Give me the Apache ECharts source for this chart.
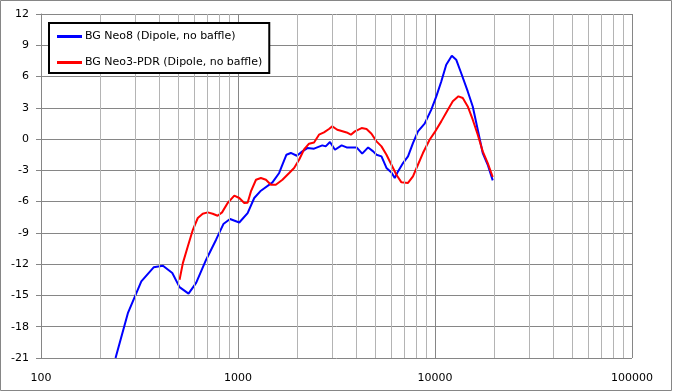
<!DOCTYPE html>
<html>
<head>
<meta charset="utf-8">
<script src="https://cdn.jsdelivr.net/npm/echarts@6/dist/echarts.min.js"></script>
<style>
html,body{margin:0;padding:0;background:#fff;}
#c{width:676px;height:391px;}
</style>
</head>
<body>
<div id="c"></div>
<script>
// Data (frequency in Hz, level in dB)
const neo8Freq = [239, 276, 323, 373, 416, 464, 505, 561, 613, 689, 774, 843, 911, 1015, 1119, 1209, 1307, 1332, 1496, 1618, 1669, 1762, 1854, 1989, 2122, 2250, 2432, 2679, 2786, 2930, 3106, 3358, 3560, 3999, 4270, 4578, 4853, 5047, 5349, 5671, 6010, 6248, 6490, 6883, 7294, 7730, 8193, 8860, 9576, 10155, 10760, 11403, 12173, 12810, 13573, 14664, 15546, 16482, 17468, 18520, 19637];
const neo8Db   = [-21, -16.7, -13.65, -12.3, -12.15, -12.85, -14.2, -14.83, -13.8, -11.57, -9.65, -8.15, -7.67, -8.0, -7.1, -5.65, -4.95, -4.85, -4.15, -3.25, -2.6, -1.5, -1.33, -1.6, -1.18, -0.86, -0.92, -0.6, -0.7, -0.28, -1.02, -0.6, -0.8, -0.8, -1.4, -0.8, -1.18, -1.5, -1.66, -2.77, -3.2, -3.73, -3.1, -2.3, -1.66, -0.38, 0.74, 1.48, 2.82, 4.1, 5.53, 7.14, 8.0, 7.62, 6.34, 4.57, 3.13, 0.9, -1.34, -2.46, -3.96];
const neo3Freq = [505, 525, 556, 590, 625, 662, 702, 744, 788, 830, 886, 958, 1015, 1076, 1119, 1163, 1234, 1307, 1386, 1469, 1556, 1681, 1819, 1927, 2042, 2164, 2294, 2432, 2577, 2732, 2896, 3010, 3190, 3292, 3560, 3742, 3920, 4240, 4492, 4760, 5047, 5349, 5671, 6010, 6370, 6754, 7294, 7730, 8193, 8684, 9389, 9952, 10760, 11622, 12312, 13155, 13835, 14664, 15546, 16482, 17468, 18520, 19637];
const neo3Db   = [-13.5, -11.9, -10.3, -8.7, -7.57, -7.16, -7.03, -7.16, -7.35, -7.03, -6.13, -5.43, -5.65, -6.13, -6.1, -5.02, -3.9, -3.73, -3.9, -4.38, -4.38, -3.9, -3.25, -2.77, -1.98, -1.0, -0.44, -0.32, 0.42, 0.64, 0.97, 1.22, 0.9, 0.83, 0.64, 0.42, 0.74, 1.06, 0.97, 0.52, -0.22, -0.7, -1.5, -2.46, -3.42, -4.15, -4.21, -3.58, -2.46, -1.34, -0.06, 0.64, 1.7, 2.82, 3.62, 4.1, 3.94, 3.13, 1.86, 0.42, -1.18, -2.3, -3.64];
const seriesNames = ['BG Neo8 (Dipole, no baffle)', 'BG Neo3-PDR (Dipole, no baffle)'];
const xTickLabels = [100, 1000, 10000, 100000];
const minorFreqs = [200,300,400,500,600,700,800,900,2000,3000,4000,5000,6000,7000,8000,9000,20000,30000,40000,50000,60000,70000,80000,90000];

const zip = (a, b) => a.map((v, i) => [v, b[i]]);
const FONT = 'DejaVu Sans';

const chart = echarts.init(document.getElementById('c'), null, {renderer: 'canvas'});
chart.setOption({
  animation: false,
  backgroundColor: '#fff',
  textStyle: {fontFamily: FONT},
  graphic: [{
    type: 'rect', z: -10, silent: true,
    shape: {x: 0.5, y: 0.5, width: 671, height: 390},
    style: {fill: 'none', stroke: '#868686', lineWidth: 1}
  }],
  grid: {left: 41, right: 44, top: 14, bottom: 33, containLabel: false},
  legend: {
    orient: 'vertical',
    left: 49, top: 23,
    z: 20, zlevel: 0,
    padding: [8, 7, 5, 8],
    itemGap: 15,
    itemWidth: 25, itemHeight: 3,
    icon: 'rect',
    borderColor: '#000', borderWidth: 2,
    backgroundColor: '#fff',
    textStyle: {fontFamily: FONT, fontSize: 11, color: '#000', padding: [0, 0, 0, -2]},
    data: seriesNames
  },
  xAxis: {
    type: 'log', logBase: 10, min: 100, max: 100000,
    axisLine: {show: true, lineStyle: {color: '#868686'}},
    axisTick: {show: false},
    axisLabel: {
      fontFamily: FONT, fontSize: 11, color: '#000', margin: 15,
      formatter: v => xTickLabels.includes(Math.round(v)) ? String(Math.round(v)) : ''
    },
    splitLine: {show: true, lineStyle: {color: '#868686', width: 1}}
  },
  yAxis: {
    type: 'value', min: -21, max: 12, interval: 3,
    axisLine: {show: true, lineStyle: {color: '#868686'}},
    axisTick: {show: true, length: 5, inside: false, lineStyle: {color: '#868686'}},
    axisLabel: {fontFamily: FONT, fontSize: 11, color: '#000', margin: 12},
    splitLine: {show: true, lineStyle: {color: '#868686', width: 1}}
  },
  series: [
    {
      name: 'minor', type: 'line', data: [], silent: true, z: 0,
      markLine: {
        silent: true, symbol: ['none', 'none'], animation: false,
        label: {show: false},
        lineStyle: {color: '#b4b4b4', width: 1, type: 'solid'},
        data: minorFreqs.map(f => ({xAxis: f}))
      }
    },
    {
      name: seriesNames[0], type: 'line', data: zip(neo8Freq, neo8Db),
      showSymbol: false, symbol: 'none', z: 3,
      lineStyle: {color: '#0000ff', width: 2}, itemStyle: {color: '#0000ff'}
    },
    {
      name: seriesNames[1], type: 'line', data: zip(neo3Freq, neo3Db),
      showSymbol: false, symbol: 'none', z: 4,
      lineStyle: {color: '#ff0000', width: 2}, itemStyle: {color: '#ff0000'}
    }
  ]
});
</script>
</body>
</html>
